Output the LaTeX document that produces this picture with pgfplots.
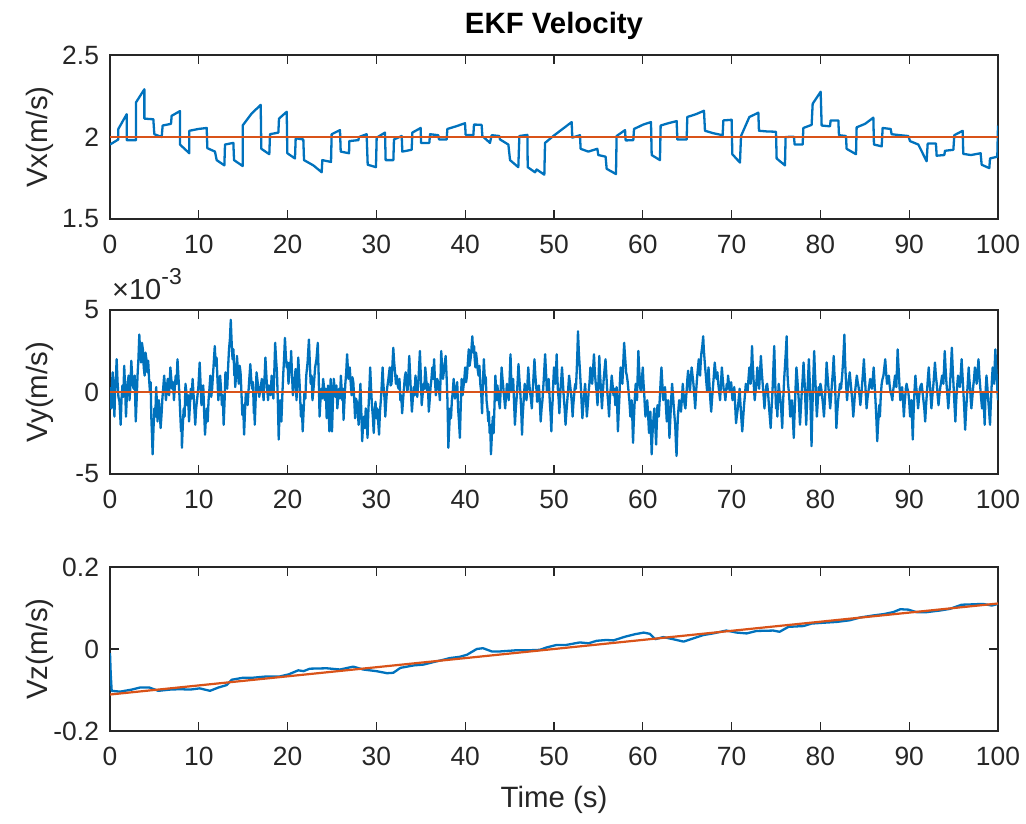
\documentclass[border=0pt]{standalone}
\usepackage{fontspec}
\setmainfont{Liberation Sans}
\usepackage{pgfplots}
\pgfplotsset{compat=1.18}
\definecolor{mblue}{RGB}{0,114,189}
\definecolor{morange}{RGB}{217,83,25}
\definecolor{agray}{RGB}{38,38,38}
\pgfplotsset{
  mstyle/.style={
    scale only axis, width=444pt, height=82pt,
    xmin=0, xmax=100, xtick={0,10,...,100},
    tick align=inside, major tick length=4.4pt,
    axis line style={agray, line width=0.6pt},
    tick style={agray, line width=0.6pt},
    /pgf/number format/assume math mode=true,
    ticklabel style={font=\fontsize{13.2}{15}\selectfont, text=agray},
    xticklabel style={yshift=-4.5pt},
    yticklabel style={xshift=-2pt},
    label style={font=\fontsize{14.7}{17}\selectfont, text=agray},
    ylabel style={at={(axis description cs:-0.079,0.5)}, anchor=center, rotate=0},
    clip mode=individual,
  },
  bl/.style={mblue, line width=1.15pt, line join=round},
  orl/.style={morange, line width=1.1pt},
}
\begin{document}
\begin{tikzpicture}
\useasboundingbox (0,0) rectangle (513pt,-411.5pt);
% ---------------- Vx ----------------
\begin{axis}[mstyle, at={(55pt,-27.5pt)}, anchor=north west,
  ymin=1.5, ymax=2.5, ytick={1.5,2,2.5}, yticklabels={1.5,2,2.5},
  ylabel={Vx(m/s)},
  title={EKF Velocity},
  title style={at={(axis description cs:0.5,1.104)}, anchor=center, font=\bfseries\fontsize{14.7}{17}\selectfont, text=black}]
\addplot[bl] coordinates {
(0,1.954)(0.94,1.985)(0.94,2.049)(1.88,2.139)(1.88,1.981)(2.93,1.981)(2.93,2.211)(3.87,2.291)(3.87,2.112)(4.88,2.108)
(4.99,2.017)(5.82,2.000)(5.93,2.070)(6.87,2.080)(6.94,2.129)(7.88,2.158)(7.88,1.954)(8.93,1.901)(8.93,2.038)(9.95,2.049)
(10.89,2.055)(10.96,1.932)(11.82,1.911)(12.01,1.859)(12.88,1.827)(12.95,1.954)(13.89,1.964)(13.97,1.859)(14.94,1.823)(14.94,2.070)
(15.95,2.143)(16.97,2.196)(17.04,1.928)(17.94,1.895)(18.02,2.017)(18.96,2.027)(19.03,2.112)(19.90,2.154)(19.97,1.901)(20.83,1.869)
(20.91,1.992)(21.77,1.985)(21.85,1.859)(22.90,1.827)(23.84,1.785)(23.91,1.859)(24.89,1.848)(24.96,2.017)(25.90,2.042)(25.98,1.911)
(26.92,1.901)(26.95,1.975)(27.97,1.981)(28.04,2.000)(28.90,2.017)(29.02,1.831)(29.95,1.816)(30.03,1.996)(30.97,2.027)(31.04,1.859)
(31.91,1.859)(31.98,1.985)(32.85,2.006)(32.92,1.911)(33.97,1.922)(34.05,2.027)(34.99,2.055)(35.02,1.964)(35.96,1.964)(36.04,2.017)
(36.97,2.011)(37.05,1.985)(37.91,1.985)(37.99,2.049)(38.96,2.065)(39.98,2.084)(40.05,2.013)(40.92,2.011)(40.99,2.076)(41.85,2.074)
(41.93,2.006)(42.79,1.964)(42.98,2.011)(43.84,2.006)(43.92,1.985)(44.86,1.954)(45.05,1.859)(45.98,1.816)(46.10,2.006)(47.00,2.013)
(47.04,1.816)(47.86,1.785)(48.05,1.802)(48.91,1.770)(48.99,1.964)(49.92,2.006)(51.99,2.091)(52.06,1.996)(52.92,2.011)(53.00,1.928)
(53.86,1.911)(54.88,1.928)(54.99,1.890)(55.81,1.880)(55.93,1.806)(56.98,1.774)(57.05,2.006)(58.00,2.042)(58.07,1.979)(58.93,1.981)
(59.01,2.049)(60.06,2.076)(60.92,2.091)(61.00,1.890)(61.93,1.859)(62.01,2.070)(62.87,2.084)(63.81,2.097)(63.89,1.985)(64.94,1.985)
(65.01,2.122)(65.99,2.139)(66.89,2.160)(67.00,2.038)(67.94,2.023)(68.99,2.011)(69.07,2.101)(70.00,2.105)(70.08,1.895)(70.94,1.844)
(71.06,2.006)(72.00,2.122)(73.01,2.148)(73.08,2.038)(73.95,2.034)(75.00,2.032)(75.07,1.869)(76.01,1.827)(76.08,2.000)(77.02,2.002)
(77.10,1.954)(78.00,1.954)(78.08,2.055)(79.01,2.074)(79.13,2.203)(80.03,2.276)(80.14,2.070)(81.08,2.065)(81.15,2.101)(82.02,2.101)
(82.09,2.011)(82.88,2.006)(82.95,1.928)(84.01,1.895)(84.08,2.059)(85.02,2.080)(85.96,2.118)(86.03,1.954)(86.90,1.943)(87.01,2.055)
(87.91,2.049)(88.02,2.017)(88.96,2.011)(89.90,2.006)(90.09,1.975)(91.03,1.954)(91.96,1.852)(92.08,1.960)(93.01,1.960)(93.09,1.886)
(93.95,1.890)(94.03,1.916)(94.97,1.922)(95.08,2.011)(96.02,2.038)(96.09,1.897)(96.96,1.890)(98.04,1.901)(98.16,1.831)(99.02,1.810)
(99.10,1.869)(99.92,1.880)(100,2.070)
};
\addplot[orl] coordinates {(0,2)(100,2)};
\end{axis}
% ---------------- Vy ----------------
\begin{axis}[mstyle, at={(55pt,-155pt)}, anchor=north west,
  ymin=-5, ymax=5, ytick={-5,0,5}, yticklabels={-5,0,5},
  ylabel={Vy(m/s)}]
\addplot[bl] coordinates {
(0.0,0.3)(0.07,-0.6)(0.15,-1.0)(0.22,0.4)(0.3,1.2)(0.4,-0.2)(0.5,-1.5)(0.55,-0.3)(0.6,0.5)(0.68,1.1)(0.75,2.0)(0.85,0.6)(0.95,-0.3)(1.07,-0.6)(1.2,-2.0)(1.3,-0.4)(1.4,0.4)(1.5,-0.3)(1.6,1.6)(1.7,0.3)(1.8,-1.5)(1.9,-0.2)(2.0,0.6)(2.1,1.0)(2.2,-0.5)(2.3,0.4)(2.4,1.9)(2.52,0.7)(2.65,0.2)(2.78,1.0)(2.9,-1.8)(3.0,-0.5)(3.1,1.0)(3.2,2.0)(3.3,3.5)(3.4,2.4)(3.5,1.8)(3.6,3.0)(3.7,2.6)(3.8,1.5)(3.9,1.0)(4.0,2.4)(4.1,2.0)(4.2,1.2)(4.3,1.9)(4.4,0.8)(4.5,0.0)(4.58,0.6)(4.65,-1.5)(4.72,-2.5)(4.8,-3.8)(4.9,-2.2)(5.0,-1.0)(5.1,-1.5)(5.2,0.3)(5.27,-0.5)(5.35,-1.8)(5.42,-1.0)(5.5,-0.5)(5.6,-1.2)(5.7,-2.2)(5.8,-1.4)(5.9,-0.4)(6.0,0.3)(6.1,1.0)(6.2,0.2)(6.3,-0.5)(6.4,0.2)(6.5,0.8)(6.65,-0.2)(6.8,1.5)(6.9,0.8)(7.0,0.2)(7.1,0.6)(7.2,-0.5)(7.3,0.3)(7.4,1.0)(7.5,0.5)(7.6,2.0)(7.7,1.0)(7.8,0.0)(7.9,-1.2)(8.0,-2.4)(8.05,-1.8)(8.1,-3.4)(8.2,-2.0)(8.3,-1.0)(8.4,-1.5)(8.5,0.5)(8.6,0.0)(8.7,-0.8)(8.8,-0.2)(8.9,-1.8)(9.0,-0.8)(9.1,0.2)(9.2,-0.4)(9.3,0.8)(9.45,-0.5)(9.6,-2.0)(9.7,-1.0)(9.8,-0.5)(9.95,0.3)(10.1,1.8)
(10.2,0.5)(10.3,-0.8)(10.4,0.2)(10.5,0.4)(10.6,-1.2)(10.7,-2.6)(10.8,-1.6)(10.9,-1.0)(11.0,-1.8)(11.1,-0.5)(11.2,0.2)(11.3,1.0)(11.4,-0.3)(11.5,0.2)(11.65,1.5)(11.8,2.8)(11.9,1.6)(12.0,2.1)(12.1,0.8)(12.2,-0.5)(12.3,0.3)(12.4,1.0)(12.5,0.2)(12.6,-0.8)(12.7,-0.2)(12.8,-2.0)(12.9,-0.6)(13.0,1.2)(13.1,0.6)(13.2,0.2)(13.3,1.5)(13.4,2.6)(13.5,3.2)(13.6,4.4)(13.7,3.0)(13.8,2.0)(13.9,2.6)(14.0,1.0)(14.05,1.5)(14.1,0.3)(14.2,1.0)(14.3,2.2)(14.4,1.3)(14.5,0.5)(14.6,1.6)(14.7,1.2)(14.8,0.0)(14.9,-1.4)(15.0,-0.8)(15.1,-2.6)(15.2,-1.2)(15.3,0.0)(15.4,-0.3)(15.5,-0.8)(15.65,0.5)(15.8,1.7)(15.9,0.8)(16.0,0.2)(16.1,0.6)(16.2,-1.3)(16.25,-0.8)(16.3,-2.0)(16.4,-0.5)(16.5,1.2)(16.65,0.5)(16.8,-0.3)(16.95,0.2)(17.1,0.8)(17.2,0.1)(17.3,-0.5)(17.4,0.8)(17.5,2.1)(17.65,0.6)(17.8,-0.5)(17.9,0.4)(18.0,0.3)(18.1,-0.2)(18.2,1.0)(18.3,0.5)(18.4,-0.4)(18.5,1.2)(18.6,3.0)(18.7,2.0)(18.8,1.2)(18.9,-0.5)(19.0,-2.9)(19.07,-1.6)(19.15,-0.5)(19.22,-1.0)(19.3,-1.8)(19.4,-0.3)(19.5,1.0)(19.6,2.0)(19.7,3.3)(19.8,2.2)(19.9,1.5)(20.0,1.8)(20.1,0.5)(20.17,1.0)(20.25,1.8)(20.32,1.2)(20.4,2.5)(20.5,1.0)(20.6,-0.2)(20.7,0.4)(20.8,0.8)(20.9,1.4)(21.0,-0.5)(21.1,0.6)(21.2,2.1)(21.35,0.5)(21.5,-1.5)(21.6,-0.8)(21.7,-2.4)(21.8,-1.2)(21.9,0.0)(22.0,-0.4)(22.1,1.0)(22.25,1.8)(22.4,3.2)(22.5,1.8)(22.6,0.5)(22.7,1.0)(22.8,-0.5)(22.95,0.4)(23.1,1.5)(23.25,2.0)(23.4,3.0)(23.5,1.0)(23.6,-1.5)(23.7,-0.5)(23.8,0.2)(23.9,-0.4)(24.0,0.8)(24.1,0.3)(24.2,-0.5)(24.3,0.2)(24.4,-1.6)(24.47,-0.6)(24.55,0.4)(24.62,-0.8)(24.7,-2.4)(24.77,-0.8)(24.85,0.8)(24.92,-0.5)(25.0,-2.4)
(25.1,-0.6)(25.2,0.8)(25.3,0.2)(25.4,-0.3)(25.5,0.4)(25.6,-1.0)(25.7,-0.3)(25.8,0.2)(25.9,-0.4)(26.0,1.0)(26.07,0.3)(26.15,-0.5)(26.22,0.2)(26.3,-1.7)(26.4,-0.6)(26.5,0.5)(26.6,1.2)(26.7,2.3)(26.85,0.8)(27.0,1.5)(27.1,0.6)(27.2,-0.2)(27.3,0.9)(27.4,0.6)(27.5,-0.4)(27.6,-1.6)(27.7,-0.4)(27.8,-0.6)(27.9,-1.2)(28.0,-2.0)(28.1,-0.6)(28.2,0.5)(28.3,-1.2)(28.4,-3.0)(28.5,-2.0)(28.6,-1.5)(28.7,-2.2)(28.8,-1.0)(28.9,-1.6)(29.0,-2.8)(29.07,-1.5)(29.15,-0.5)(29.22,0.4)(29.3,1.5)(29.4,0.2)(29.5,-0.8)(29.6,-1.5)(29.7,-2.5)(29.8,-1.2)(29.9,-0.6)(30.0,-1.6)(30.1,-1.0)(30.2,-1.8)(30.3,-2.6)(30.4,-1.2)(30.5,-0.5)(30.6,0.4)(30.7,1.5)(30.77,0.6)(30.85,0.0)(30.92,-0.4)(31.0,-1.5)(31.1,-0.6)(31.2,0.2)(31.35,0.8)(31.5,1.5)(31.6,0.4)(31.7,0.5)(31.8,1.6)(31.9,2.7)(32.0,1.8)(32.1,1.2)(32.2,0.5)(32.3,1.0)(32.4,0.4)(32.5,0.2)(32.6,0.8)(32.7,-0.5)(32.8,-0.2)(32.9,-1.3)(33.0,-0.5)(33.1,0.2)(33.2,0.9)(33.3,1.2)(33.4,0.6)(33.5,0.0)(33.6,1.0)(33.7,2.2)(33.85,0.4)(34.0,-1.2)(34.1,-0.4)(34.2,0.3)(34.3,-0.2)(34.4,1.0)(34.5,0.4)(34.6,-0.3)(34.75,0.9)(34.9,2.5)(35.0,1.0)(35.1,-0.8)(35.2,-0.2)(35.3,0.5)(35.4,0.2)(35.5,1.5)(35.6,0.9)(35.7,0.0)(35.8,0.5)(35.9,-1.2)(36.0,-0.5)(36.1,0.3)(36.2,0.8)(36.3,1.5)(36.4,0.8)(36.5,2.0)(36.6,0.6)(36.7,-0.2)(36.85,0.8)(37.0,0.5)(37.07,0.0)(37.15,-0.5)(37.22,0.8)(37.3,2.5)(37.4,1.5)(37.5,0.8)(37.65,1.5)(37.8,2.2)(37.9,1.0)(38.0,-0.5)(38.05,-1.8)(38.1,-3.4)(38.2,-2.2)(38.3,-1.0)(38.4,-1.6)(38.5,-0.5)(38.6,0.0)(38.7,0.8)(38.85,-0.4)(39.0,0.2)(39.1,0.6)(39.2,-1.0)(39.3,-1.8)(39.4,-2.8)(39.5,-0.8)(39.6,0.8)(39.7,-0.2)(39.8,0.3)(39.9,0.8)(40.0,1.5)(40.1,0.6)(40.2,1.0)(40.3,1.8)(40.4,2.6)(40.5,1.6)(40.6,2.0)(40.7,2.6)(40.8,3.4)(40.9,2.4)(41.0,2.8)(41.07,2.0)(41.15,1.5)(41.22,2.4)(41.3,2.0)(41.4,1.4)(41.5,1.0)(41.6,1.6)(41.7,0.5)(41.8,0.0)(41.9,-1.3)(42.0,0.6)(42.1,2.0)(42.17,1.2)(42.25,0.5)(42.32,0.9)(42.4,-0.5)(42.5,-1.0)(42.6,-1.8)(42.67,-1.2)(42.75,-2.5)(42.82,-2.0)(42.9,-3.8)(42.97,-3.0)(43.05,-2.0)(43.12,-1.5)(43.2,-2.5)(43.3,-0.8)(43.4,1.0)(43.47,0.2)(43.55,-0.5)(43.62,0.4)(43.7,0.0)(43.8,-0.6)(43.9,-1.0)(44.0,0.2)(44.1,1.5)(44.2,0.8)(44.3,0.2)(44.4,-0.4)(44.5,-1.0)(44.6,-0.2)(44.7,0.5)(44.8,0.0)(44.9,-0.5)(45.0,0.8)(45.1,2.3)(45.17,1.0)(45.25,0.0)(45.32,0.5)(45.4,0.8)(45.5,-0.6)(45.6,-2.0)(45.7,-1.0)(45.8,-0.3)(45.9,0.6)(46.0,1.7)(46.1,0.8)(46.2,0.0)(46.3,-1.0)(46.4,-2.6)(46.47,-1.5)(46.55,-0.8)(46.62,-0.2)(46.7,0.5)(46.8,0.0)(46.9,-0.5)(47.0,0.4)(47.1,1.5)(47.2,0.6)(47.3,0.0)(47.4,-0.4)(47.5,-1.0)(47.57,-0.2)(47.65,0.5)(47.72,1.2)(47.8,2.0)(47.9,1.0)(48.0,0.3)(48.05,0.0)(48.1,-0.6)(48.2,0.0)(48.3,0.4)(48.4,-0.6)(48.5,-1.8)(48.6,-1.0)(48.7,-0.5)(48.85,0.8)(49.0,2.3)(49.1,1.2)(49.2,0.0)(49.3,0.3)(49.4,0.8)(49.47,0.0)(49.55,-0.8)(49.62,-1.4)(49.7,-2.4)(49.77,-1.2)(49.85,-0.5)(49.92,0.6)
(50.0,1.5)(50.07,0.8)(50.15,0.5)(50.22,1.2)(50.3,2.3)(50.37,1.0)(50.45,0.0)(50.52,-0.4)(50.6,-1.3)(50.67,-0.5)(50.75,0.3)(50.82,0.8)(50.9,1.5)(51.0,0.6)(51.1,-0.3)(51.2,-1.0)(51.3,-2.0)(51.4,-1.2)(51.5,-0.5)(51.6,0.2)(51.7,1.0)(51.8,0.5)(51.9,0.0)(52.0,-0.6)(52.1,-1.5)(52.17,-0.8)(52.25,-0.3)(52.32,0.2)(52.4,0.5)(52.47,0.2)(52.55,1.2)(52.62,2.2)(52.7,3.7)(52.8,2.4)(52.9,1.5)(52.97,0.8)(53.05,0.0)(53.12,-0.8)(53.2,-1.6)(53.27,-1.0)(53.35,-0.5)(53.42,0.0)(53.5,0.5)(53.6,-0.4)(53.7,-1.5)(53.8,-0.8)(53.9,0.0)(54.0,0.6)(54.1,1.5)(54.2,1.0)(54.3,0.5)(54.4,1.4)(54.5,2.3)(54.6,1.2)(54.7,0.5)(54.8,0.0)(54.9,-0.8)(55.0,0.6)(55.1,2.2)(55.17,1.2)(55.25,0.5)(55.32,-0.2)(55.4,-1.0)(55.5,0.0)(55.6,0.8)(55.7,1.4)(55.8,2.0)(55.9,1.0)(56.0,0.0)(56.1,-0.6)(56.2,-1.5)(56.27,-0.6)(56.35,0.0)(56.42,0.4)(56.5,1.0)(56.6,0.4)(56.7,-0.2)(56.8,0.2)(56.9,-0.8)(56.97,-0.2)(57.05,0.3)(57.12,-1.0)(57.2,-2.4)(57.27,-1.4)(57.35,-0.5)(57.42,0.6)(57.5,1.5)(57.6,1.0)(57.7,0.5)(57.8,1.8)(57.9,3.0)(57.97,2.4)(58.05,1.8)(58.12,1.2)(58.2,1.0)(58.3,0.6)(58.4,0.0)(58.5,-0.6)(58.6,-1.5)(58.67,-1.0)(58.75,-0.5)(58.82,-1.6)(58.9,-3.1)(58.97,-2.0)(59.05,-1.0)(59.12,-0.2)(59.2,0.5)(59.27,0.0)(59.35,-0.5)(59.42,1.0)(59.5,2.5)(59.57,1.6)(59.65,0.8)(59.72,0.2)(59.8,0.0)(59.9,0.8)(60.0,1.5)(60.07,0.6)(60.15,0.0)(60.22,-0.8)(60.3,-1.5)(60.4,-1.0)(60.5,-0.5)(60.6,-1.4)(60.7,-2.5)(60.77,-1.8)(60.85,-1.2)(60.92,-2.4)(61.0,-3.8)(61.07,-2.8)(61.15,-2.0)(61.22,-1.5)(61.3,-1.0)(61.4,-2.0)(61.5,-3.2)(61.57,-2.0)(61.65,-0.8)(61.72,-1.0)(61.8,-1.5)(61.87,-0.8)(61.95,0.0)(62.02,0.8)(62.1,1.5)(62.2,0.5)(62.3,-0.5)(62.4,0.0)(62.5,0.3)(62.6,-0.8)(62.7,-1.8)(62.77,-1.2)(62.85,-0.5)(62.92,-1.5)(63.0,-2.8)(63.07,-2.0)(63.15,-1.0)(63.22,-0.2)(63.3,0.5)(63.4,-0.2)(63.5,-1.0)(63.57,-1.5)(63.65,-2.0)(63.72,-3.0)(63.8,-3.9)(63.87,-2.6)(63.95,-1.5)(64.02,-1.0)(64.1,-0.5)(64.2,-0.8)(64.3,-1.2)(64.4,-0.4)(64.5,0.5)(64.57,0.0)(64.65,-0.5)(64.72,-0.8)(64.8,-1.0)(64.87,-0.4)(64.95,0.2)(65.02,0.8)(65.1,1.3)(65.2,0.6)(65.3,0.0)(65.4,0.8)(65.5,1.5)(65.6,1.0)(65.7,0.5)(65.8,-0.2)(65.9,-1.0)(66.0,0.0)(66.1,0.8)(66.2,1.4)(66.3,2.0)(66.37,1.5)(66.45,1.0)(66.52,1.8)(66.6,2.4)(66.7,2.8)(66.8,3.4)(66.87,2.6)(66.95,2.0)(67.02,1.5)(67.1,1.0)(67.17,0.5)(67.25,0.0)(67.32,0.8)(67.4,1.5)(67.47,0.8)(67.55,0.0)(67.62,-0.6)(67.7,-1.2)(67.8,-0.4)(67.9,0.3)(68.0,1.0)(68.1,1.8)(68.2,1.2)(68.3,0.8)(68.4,1.2)(68.5,0.5)(68.6,0.0)(68.7,-0.5)(68.8,0.5)(68.9,1.5)(69.0,0.8)(69.1,0.2)(69.2,0.0)(69.3,-0.5)(69.37,0.0)(69.45,0.5)(69.52,0.2)(69.6,1.0)(69.7,0.5)(69.8,0.0)(69.95,0.6)(70.1,-0.5)(70.2,-0.2)(70.3,0.3)(70.4,-0.8)(70.5,-1.9)(70.6,-1.4)(70.7,-1.0)(70.8,-0.4)(70.9,0.2)(70.97,-0.5)(71.05,-1.2)(71.12,-1.8)(71.2,-2.4)(71.3,-1.6)(71.4,-0.8)(71.5,-0.2)(71.6,0.5)(71.7,0.2)(71.8,0.0)(71.9,0.8)(72.0,1.5)(72.07,1.0)(72.15,0.5)(72.22,1.6)(72.3,2.8)(72.37,1.8)(72.45,1.0)(72.52,0.2)(72.6,-0.5)(72.67,-0.1)(72.75,0.3)(72.82,0.8)(72.9,1.5)(73.0,0.8)(73.1,0.2)(73.2,1.2)(73.3,2.2)(73.4,1.2)(73.5,0.5)(73.6,-0.2)(73.7,-1.0)(73.77,-0.4)(73.85,0.0)(73.92,0.4)(74.0,0.5)(74.1,0.0)(74.2,-0.8)(74.3,-1.5)(74.4,-2.2)(74.5,-1.0)(74.6,0.0)(74.7,1.4)(74.8,2.8)(74.9,0.8)
(75.0,-1.0)(75.07,-0.4)(75.15,-1.5)(75.22,-0.5)(75.3,0.5)(75.4,0.0)(75.5,-0.5)(75.6,-1.2)(75.7,-2.2)(75.77,-1.0)(75.85,0.0)(75.92,0.8)(76.0,1.5)(76.1,2.4)(76.2,3.4)(76.25,2.0)(76.3,1.0)(76.37,0.4)(76.45,0.0)(76.52,-0.6)(76.6,-1.5)(76.7,-1.0)(76.8,-0.5)(76.9,-1.6)(77.0,-2.8)(77.07,-1.6)(77.15,-0.5)(77.22,0.5)(77.3,1.5)(77.4,0.8)(77.5,0.0)(77.6,-0.8)(77.7,-2.0)(77.8,-1.0)(77.9,0.0)(78.0,0.8)(78.1,1.8)(78.17,1.0)(78.25,0.3)(78.32,-0.8)(78.4,-2.0)(78.47,-1.0)(78.55,0.0)(78.62,1.0)(78.7,2.0)(78.77,1.0)(78.85,0.0)(78.92,-1.5)(79.0,-3.3)(79.07,-1.6)(79.15,0.0)(79.22,1.2)(79.3,2.5)(79.37,1.4)(79.45,0.5)(79.52,-0.5)(79.6,-1.5)(79.7,-0.6)(79.8,0.3)(79.9,-0.2)(80.0,0.5)(80.1,0.2)(80.2,-0.3)(80.3,-0.8)(80.4,-1.5)(80.47,-0.8)(80.55,0.0)(80.62,0.8)(80.7,1.8)(80.8,1.0)(80.9,0.3)(81.0,-0.3)(81.1,-1.0)(81.2,-0.3)(81.3,0.5)(81.4,1.2)(81.5,2.2)(81.57,1.2)(81.65,0.5)(81.72,-0.8)(81.8,-2.2)(81.9,-1.2)(82.0,-0.5)(82.1,0.0)(82.2,0.5)(82.32,0.2)(82.45,1.0)(82.57,2.0)(82.7,3.5)(82.77,2.0)(82.85,1.0)(82.92,0.2)(83.0,-0.5)(83.07,0.0)(83.15,0.5)(83.22,0.8)(83.3,1.2)(83.4,0.6)(83.5,0.0)(83.6,-0.6)(83.7,-1.5)(83.8,-0.8)(83.9,0.0)(84.0,0.5)(84.1,1.0)(84.2,0.6)(84.3,0.3)(84.4,-0.2)(84.5,-0.8)(84.6,-0.2)(84.7,0.5)(84.8,1.2)(84.9,2.0)(84.97,1.2)(85.05,0.5)(85.12,-0.2)(85.2,-1.0)(85.3,-0.4)(85.4,0.0)(85.5,0.4)(85.6,0.8)(85.7,0.4)(85.8,0.2)(85.9,0.8)(86.0,1.5)(86.1,0.5)(86.2,-0.5)(86.3,-1.6)(86.4,-3.0)(86.47,-2.2)(86.55,-1.5)(86.62,-0.8)(86.7,-1.5)(86.8,-0.2)(86.9,0.5)(87.0,0.8)(87.1,1.0)(87.2,1.5)(87.3,2.0)(87.4,1.2)(87.5,0.5)(87.6,0.8)(87.7,1.0)(87.8,0.4)(87.9,0.0)(88.0,-0.2)(88.1,-0.5)(88.17,0.0)(88.25,0.3)(88.32,0.6)(88.4,1.0)(88.47,0.6)(88.55,0.3)(88.62,1.4)(88.7,2.6)(88.77,1.8)(88.85,1.0)(88.92,0.2)(89.0,-0.5)(89.1,-0.1)(89.2,0.3)(89.3,-0.5)(89.4,-1.5)(89.47,-0.8)(89.55,-0.3)(89.62,0.2)(89.7,0.5)(89.8,0.2)(89.9,0.0)(90.0,-0.6)(90.1,-1.5)(90.17,-1.0)(90.25,-0.5)(90.32,-1.6)(90.4,-2.9)(90.47,-1.6)(90.55,-0.5)(90.62,0.3)(90.7,1.0)(90.77,0.4)(90.85,0.0)(90.92,-0.4)(91.0,-1.0)(91.1,-0.4)(91.2,0.2)(91.3,0.4)(91.4,0.5)(91.5,0.0)(91.6,-0.5)(91.7,-1.0)(91.8,-1.8)(91.9,-0.8)(92.0,0.0)(92.1,0.8)(92.2,1.5)(92.27,0.8)(92.35,0.3)(92.42,-0.3)(92.5,-1.0)(92.6,-0.3)(92.7,0.3)(92.8,1.0)(92.9,1.8)(93.0,1.0)(93.1,0.5)(93.2,-0.2)(93.3,-0.8)(93.4,-0.2)(93.5,0.3)(93.6,0.6)(93.7,1.0)(93.77,0.7)(93.85,0.5)(93.92,1.4)(94.0,2.5)(94.1,1.4)(94.2,0.5)(94.3,-0.2)(94.4,-1.0)(94.5,-0.2)(94.6,0.5)(94.7,1.5)(94.8,2.7)(94.9,1.4)(95.0,0.3)(95.1,-0.8)(95.2,-1.8)(95.27,-0.8)(95.35,0.0)(95.42,0.5)(95.5,1.0)(95.6,0.6)(95.7,0.3)(95.8,1.0)(95.9,2.0)(96.0,1.0)(96.1,0.0)(96.2,-1.0)(96.3,-2.3)(96.4,-1.2)(96.5,-0.3)(96.6,0.6)(96.7,1.5)(96.77,0.8)(96.85,0.3)(96.92,-0.4)(97.0,-1.0)(97.1,-0.4)(97.2,0.3)(97.3,0.8)(97.4,1.5)(97.5,1.0)(97.6,0.5)(97.7,1.2)(97.8,2.0)(97.9,1.0)(98.0,0.3)(98.1,-0.4)(98.2,-1.0)(98.27,-0.5)(98.35,0.0)(98.42,-1.0)(98.5,-2.0)(98.55,-1.0)(98.6,0.0)(98.65,0.5)(98.7,1.0)(98.8,0.3)(98.9,-0.5)(99.0,-1.2)(99.1,-2.0)(99.17,-1.0)(99.25,0.0)(99.32,0.8)(99.4,1.5)(99.47,1.0)(99.55,0.5)(99.62,1.5)(99.7,2.6)(99.77,1.8)(99.85,1.0)(99.92,0.2)(100.0,-0.5)
};
\addplot[orl] coordinates {(0,0)(100,0)};
\node[anchor=base west, inner sep=0pt, font=\fontsize{14.5}{16}\selectfont, text=agray] at (axis description cs:0.002,1.065) {×10\raisebox{0.5em}{\fontsize{11.5}{13}\selectfont -3}};
\end{axis}
% ---------------- Vz ----------------
\begin{axis}[mstyle, at={(55pt,-283.5pt)}, anchor=north west,
  ymin=-0.2, ymax=0.2, ytick={-0.2,0,0.2}, yticklabels={-0.2,0,0.2},
  ylabel={Vz(m/s)},
  xlabel={Time (s)},
  xlabel style={at={(axis description cs:0.5,-0.42)}, anchor=center}]
\addplot[bl] coordinates {
(0,-0.01)(0.08,-0.06)(0.19,-0.102)(1.13,-0.104)(2.44,-0.099)(3.38,-0.094)(4.43,-0.094)(5.44,-0.102)(6.76,-0.099)(7.88,-0.098)
(9.01,-0.099)(10.1,-0.096)(11.26,-0.102)(12.2,-0.094)(13.14,-0.088)(13.7,-0.075)(15.0,-0.070)(16.1,-0.070)(17.6,-0.067)(19.1,-0.067)
(20.1,-0.062)(21.2,-0.052)(21.8,-0.054)(22.5,-0.048)(24.4,-0.047)(25.9,-0.050)(27.4,-0.043)(28.5,-0.050)(30.0,-0.054)(31.2,-0.059)
(31.9,-0.058)(32.7,-0.046)(34.2,-0.040)(35.3,-0.038)(36.4,-0.032)(37.2,-0.028)(38.3,-0.022)(39.4,-0.019)(40.2,-0.014)(41.3,0.0)
(42.0,0.002)(43.0,-0.006)(43.9,-0.006)(45.8,-0.003)(47.3,-0.003)(48.4,-0.002)(49.2,0.004)(50.3,0.010)(51.4,0.010)(52.9,0.016)
(53.9,0.014)(54.8,0.020)(55.9,0.022)(56.7,0.021)(58.0,0.030)(59.1,0.036)(60.1,0.040)(60.8,0.037)(61.4,0.024)(62.3,0.029)
(63.4,0.024)(64.6,0.018)(65.7,0.026)(66.8,0.034)(67.9,0.038)(69.4,0.045)(70.6,0.040)(71.7,0.038)(72.8,0.044)(74.7,0.045)
(75.4,0.042)(76.4,0.054)(78.1,0.056)(79.0,0.062)(80.3,0.064)(81.8,0.066)(83.3,0.070)(84.5,0.077)(86.0,0.082)(87.1,0.085)
(88.2,0.090)(89.0,0.097)(89.9,0.096)(90.8,0.090)(92.0,0.090)(93.5,0.094)(94.6,0.098)(95.9,0.108)(97.2,0.109)(98.3,0.110)
(99.3,0.106)(100.0,0.110)
};
\addplot[orl] coordinates {(0,-0.111)(100,0.111)};
\end{axis}
\end{tikzpicture}
\end{document}
